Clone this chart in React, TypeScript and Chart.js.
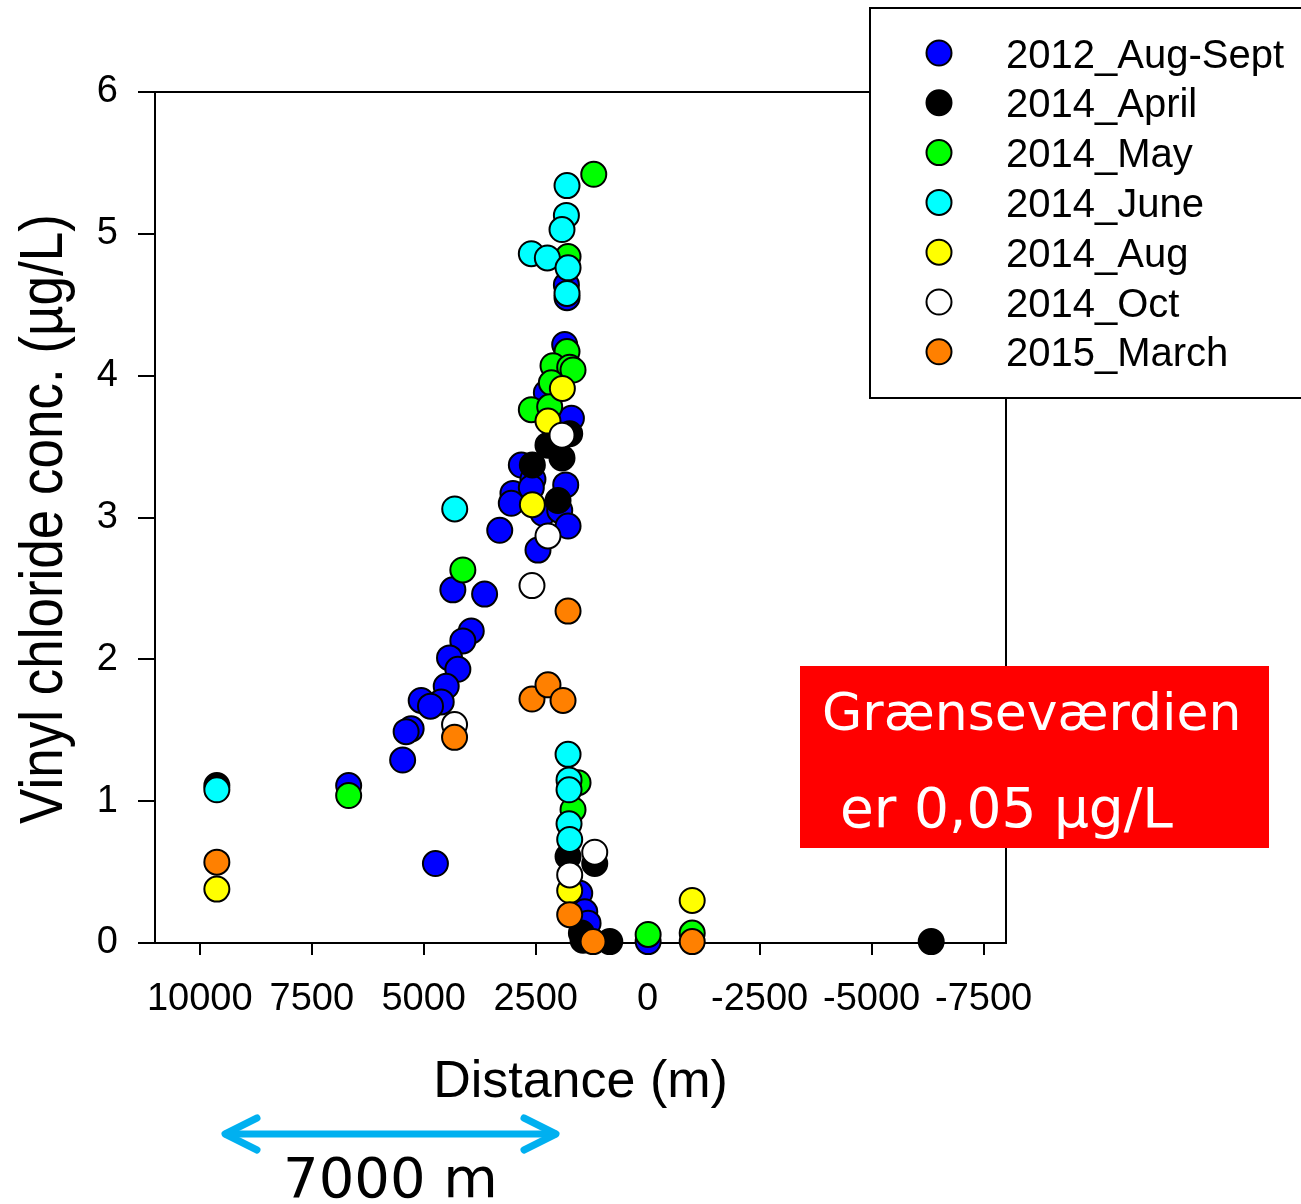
import React, { useEffect, useRef } from "react";
import { Chart, registerables } from "chart.js";

Chart.register(...registerables);

// ---- Data ----
const seriesNames = ["2012_Aug-Sept", "2014_April", "2014_May", "2014_June", "2014_Aug", "2014_Oct", "2015_March"];
const seriesColors = ["#0000FF", "#000000", "#00FF00", "#00FFFF", "#FFFF00", "#FFFFFF", "#FF8000"];

const augSept2012X = [6676, 4739, 5471, 3303, 4350, 3641, 3939, 4127, 4424, 4238, 4498, 4610, 5057, 4849, 5281, 5393, 2821, 2562, 3008, 3045, 2598, 2338, 1964, 1830, 1778, 2449, 1853, 2262, 1703, 1741, 1815, 1801, 1517, 1405, 1331, -10];
const augSept2012Y = [1.11, 0.56, 1.29, 2.91, 2.49, 2.46, 2.2, 2.13, 2.01, 1.93, 1.81, 1.7, 1.71, 1.67, 1.51, 1.49, 3.37, 3.27, 3.17, 3.1, 3.21, 3.03, 3.05, 3.23, 2.94, 2.77, 4.22, 3.88, 3.7, 4.05, 4.64, 4.55, 0.35, 0.22, 0.14, 0.01];

const april2014X = [9619, 2575, 2226, 1913, 1741, 2002, 1778, 1182, 1480, 1443, 846, -6330];
const april2014Y = [1.11, 3.37, 3.51, 3.42, 3.59, 3.12, 0.61, 0.56, 0.07, 0.02, 0.01, 0.01];

const may2014X = [6676, 4127, 1204, 1778, 1801, 2114, 1741, 1667, 2150, 2598, 2188, 1555, 1667, -10, -994];
const may2014Y = [1.04, 2.63, 5.42, 4.84, 4.17, 4.07, 4.06, 4.04, 3.95, 3.76, 3.78, 1.13, 0.94, 0.06, 0.07];

const june2014X = [9619, 4308, 1801, 1815, 1913, 2598, 2240, 1778, 1801, 1778, 1756, 1756, 1756, 1741];
const june2014Y = [1.08, 3.06, 5.34, 5.13, 5.03, 4.86, 4.83, 4.76, 4.58, 1.33, 1.15, 1.08, 0.84, 0.73];

const aug2014X = [9619, 2575, 2226, 1905, 1741, -994];
const aug2014Y = [0.38, 3.09, 3.68, 3.91, 0.37, 0.3];

const oct2014X = [4312, 2583, 2226, 1913, 1182, 1741];
const oct2014Y = [1.54, 2.52, 2.87, 3.58, 0.64, 0.48];

const march2015X = [9619, 4312, 2583, 2226, 1890, 1778, 1741, 1219, -994];
const march2015Y = [0.57, 1.45, 1.72, 1.82, 1.71, 2.34, 0.2, 0.01, 0.01];

const seriesX = [augSept2012X, april2014X, may2014X, june2014X, aug2014X, oct2014X, march2015X];
const seriesY = [augSept2012Y, april2014Y, may2014Y, june2014Y, aug2014Y, oct2014Y, march2015Y];

const xTickValues = [10000, 7500, 5000, 2500, 0, -2500, -5000, -7500];
const yTickValues = [0, 1, 2, 3, 4, 5, 6];

const xAxisTitle = "Distance (m)";
const yAxisTitle = "Vinyl chloride conc. (\u00b5g/L)";
const noteLine1 = "Grænseværdien";
const noteLine2 = "er 0,05 \u00b5g/L";
const arrowLabel = "7000 m";

const SANS = "'Liberation Sans', Arial, Helvetica, sans-serif";
const DEJAVU = "'DejaVu Sans', Verdana, sans-serif";

const overlayPlugin = {
  id: "overlay",
  beforeDatasetsDraw(chart: any) {
    const { ctx, chartArea: a } = chart;
    ctx.save();
    ctx.strokeStyle = "#000";
    ctx.lineWidth = 2;
    ctx.beginPath();
    ctx.moveTo(a.left - 1, a.top);
    ctx.lineTo(a.right, a.top);
    ctx.lineTo(a.right, a.bottom + 1);
    ctx.stroke();
    ctx.restore();
  },
  afterDraw(chart: any) {
    const { ctx } = chart;
    ctx.save();

    // Y axis title (slightly tall lettering)
    ctx.save();
    ctx.translate(62, 519);
    ctx.rotate(-Math.PI / 2);
    ctx.scale(1, 1.15);
    ctx.font = `53px ${SANS}`;
    ctx.fillStyle = "#000";
    ctx.textAlign = "center";
    ctx.textBaseline = "alphabetic";
    ctx.fillText(yAxisTitle, 0, 0);
    ctx.restore();

    // Legend box
    ctx.fillStyle = "#fff";
    ctx.fillRect(870, 8, 440, 390);
    ctx.strokeStyle = "#000";
    ctx.lineWidth = 2;
    ctx.strokeRect(870, 8, 440, 390);
    seriesNames.forEach((name, i) => {
      const cy = 53 + i * 49.8;
      ctx.beginPath();
      ctx.arc(939, cy, 12.5, 0, Math.PI * 2);
      ctx.fillStyle = seriesColors[i];
      ctx.fill();
      ctx.lineWidth = 2;
      ctx.strokeStyle = "#000";
      ctx.stroke();
      ctx.fillStyle = "#000";
      ctx.font = `40px ${SANS}`;
      ctx.textAlign = "left";
      ctx.textBaseline = "alphabetic";
      ctx.fillText(name, 1006, cy + 14.5);
    });

    // Red note box
    ctx.fillStyle = "#FF0000";
    ctx.fillRect(800, 666, 469, 182);
    ctx.fillStyle = "#FFFFFF";
    ctx.textAlign = "left";
    ctx.textBaseline = "alphabetic";
    ctx.font = `52px ${DEJAVU}`;
    ctx.fillText(noteLine1, 822, 730);
    ctx.font = `55px ${DEJAVU}`;
    ctx.fillText(noteLine2, 840, 827);

    // Double arrow
    ctx.strokeStyle = "#00B0F0";
    ctx.lineWidth = 7;
    ctx.lineCap = "round";
    ctx.lineJoin = "round";
    ctx.beginPath();
    ctx.moveTo(226, 1134);
    ctx.lineTo(555, 1134);
    ctx.stroke();
    ctx.beginPath();
    ctx.moveTo(257, 1118);
    ctx.lineTo(225, 1134);
    ctx.lineTo(257, 1150);
    ctx.stroke();
    ctx.beginPath();
    ctx.moveTo(524, 1118);
    ctx.lineTo(556, 1134);
    ctx.lineTo(524, 1150);
    ctx.stroke();

    ctx.fillStyle = "#000";
    ctx.font = `56px ${DEJAVU}`;
    ctx.textAlign = "left";
    ctx.fillText(arrowLabel, 283, 1197);

    ctx.restore();
  },
};

export default function App() {
  const ref = useRef<HTMLCanvasElement>(null);

  useEffect(() => {
    const canvas = ref.current;
    if (!canvas) return;
    const datasets = seriesNames.map((name, i) => ({
      label: name,
      data: seriesX[i].map((x, j) => ({ x, y: seriesY[i][j] })),
      backgroundColor: seriesColors[i],
      borderColor: "#000000",
      borderWidth: 2,
      pointRadius: 12.5,
      pointHoverRadius: 12.5,
      order: seriesNames.length - i,
      clip: false as any,
    }));

    const chart = new Chart(canvas, {
      type: "scatter",
      data: { datasets },
      options: {
        animation: false,
        responsive: false,
        devicePixelRatio: 1,
        events: [],
        layout: { padding: { top: 92, left: 0, right: 295, bottom: 90 } },
        plugins: {
          legend: { display: false },
          tooltip: { enabled: false },
        },
        scales: {
          x: {
            type: "linear",
            reverse: true,
            min: -8000,
            max: 11000,
            afterFit: (scale: any) => {
              scale.height = 171;
            },
            afterBuildTicks: (scale: any) => {
              scale.ticks = xTickValues.map((v) => ({ value: v }));
            },
            ticks: {
              autoSkip: false,
              maxRotation: 0,
              minRotation: 0,
              padding: 22,
              color: "#000",
              font: { size: 38, family: SANS },
              callback: (v: any) => String(v),
            },
            grid: {
              drawOnChartArea: false,
              drawTicks: true,
              tickLength: 12,
              tickWidth: 2,
              lineWidth: 2,
              tickColor: "#000",
              color: "#000",
            },
            border: { display: true, color: "#000", width: 2 },
            title: {
              display: true,
              text: xAxisTitle,
              color: "#000",
              font: { size: 52, family: SANS },
              padding: { top: 0, bottom: 0 },
            },
          },
          y: {
            type: "linear",
            min: 0,
            max: 6,
            afterFit: (scale: any) => {
              scale.width = 155;
            },
            afterBuildTicks: (scale: any) => {
              scale.ticks = yTickValues.map((v) => ({ value: v }));
            },
            ticks: {
              padding: 20,
              color: "#000",
              font: { size: 38, family: SANS },
              callback: (v: any) => String(v),
            },
            grid: {
              drawOnChartArea: false,
              drawTicks: true,
              tickLength: 17,
              tickWidth: 2,
              lineWidth: 2,
              tickColor: "#000",
              color: "#000",
            },
            border: { display: true, color: "#000", width: 2 },
          },
        },
      },
      plugins: [overlayPlugin],
    } as any);

    return () => chart.destroy();
  }, []);

  return (
    <div style={{ position: "absolute", left: 0, top: 0, width: 1301, height: 1204, background: "#fff" }}>
      <canvas ref={ref} width={1301} height={1204} style={{ width: 1301, height: 1204, display: "block" }} />
    </div>
  );
}
